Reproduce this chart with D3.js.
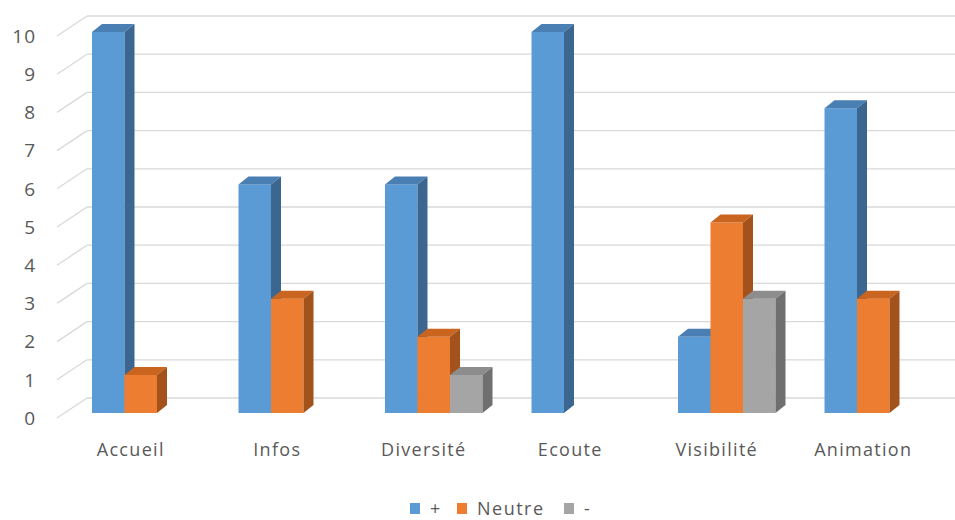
<!DOCTYPE html>
<html>
<head>
<meta charset="utf-8">
<script src="https://cdn.jsdelivr.net/npm/d3@7"></script>
<style>
  html, body { margin: 0; padding: 0; background: #fff; }
  svg { display: block; font-family: "Open Sans", "Noto Sans", sans-serif; }
</style>
</head>
<body>
<svg id="chart" width="955" height="520"></svg>
<script>
// Categories and series
const categories = ["Accueil", "Infos", "Diversité", "Ecoute", "Visibilité", "Animation"];
const seriesNames = ["+", "Neutre", "-"];
const plusValues = [10, 6, 6, 10, 2, 8];
const neutreValues = [1, 3, 2, 0, 5, 3];
const minusValues = [0, 0, 1, 0, 3, 0];
const yTicks = [0, 1, 2, 3, 4, 5, 6, 7, 8, 9, 10];

const seriesValues = [plusValues, neutreValues, minusValues];
const palette = [
  { front: "#5b9bd5", top: "#4a7fb3", side: "#3a6690" },
  { front: "#ed7d31", top: "#c9651f", side: "#a3521b" },
  { front: "#a5a5a5", top: "#8d8d8d", side: "#6f6f6f" }
];

const svg = d3.select("#chart");

// Perspective offsets: whole plot depth and single bar depth
const wallDx = 30, wallDy = -20;
const barDx = 10, barDy = -8;

// Back wall scale and front-of-bar scale
const yWall = d3.scaleLinear().domain([0, 10]).range([398, 16]);
const yBar = d3.scaleLinear().domain([0, 10]).range([413, 32]);

const x0 = d3.scaleBand().domain(categories).range([67.5, 946.5])
  .paddingInner(0.3345).paddingOuter(0.3345 / 2);
const x1 = d3.scaleBand().domain(d3.range(seriesNames.length)).range([0, x0.bandwidth()]);

// Gridlines on the back wall plus the receding side wall edges
const grid = svg.append("g");
yTicks.forEach(v => {
  const yb = yWall(v);
  grid.append("line")
    .attr("x1", 57 + wallDx).attr("x2", 955)
    .attr("y1", yb).attr("y2", yb)
    .attr("stroke", "#d9d9d9").attr("stroke-width", 1.3);
  grid.append("line")
    .attr("x1", 57).attr("y1", yb - wallDy)
    .attr("x2", 57 + wallDx).attr("y2", yb)
    .attr("stroke", "#d9d9d9").attr("stroke-width", 1.3);
  grid.append("text")
    .attr("x", 36).attr("y", yb - wallDy)
    .attr("text-anchor", "end").attr("dy", "0.36em")
    .attr("fill", "#595959").attr("font-size", 19)
    .attr("letter-spacing", 1)
    .text(v);
});

// 3D columns
const bars = svg.append("g");
categories.forEach((c, ci) => {
  seriesValues.forEach((vals, si) => {
    const v = vals[ci];
    if (!v) return;
    const col = palette[si];
    const xl = x0(c) + x1(si);
    const xr = xl + x1.bandwidth();
    const yt = yBar(v);
    const yb = yBar(0);
    const g = bars.append("g");
    g.append("rect")
      .attr("x", xl).attr("y", yt)
      .attr("width", xr - xl).attr("height", yb - yt)
      .attr("fill", col.front);
    g.append("path")
      .attr("d", `M${xl},${yt}L${xl + barDx},${yt + barDy}L${xr + barDx},${yt + barDy}L${xr},${yt}Z`)
      .attr("fill", col.top);
    g.append("path")
      .attr("d", `M${xr},${yt}L${xr + barDx},${yt + barDy}L${xr + barDx},${yb + barDy}L${xr},${yb}Z`)
      .attr("fill", col.side);
  });
});

// Category labels
svg.append("g").selectAll("text").data(categories).join("text")
  .attr("x", d => x0(d) + x0.bandwidth() / 2 - 10)
  .attr("y", 456)
  .attr("text-anchor", "middle")
  .attr("fill", "#595959").attr("font-size", 18)
  .attr("letter-spacing", 1.3)
  .text(d => d);

// Legend
const legendItems = [
  { name: seriesNames[0], x: 410 },
  { name: seriesNames[1], x: 457 },
  { name: seriesNames[2], x: 564 }
];
const legend = svg.append("g");
legendItems.forEach((it, i) => {
  legend.append("rect")
    .attr("x", it.x).attr("y", 503)
    .attr("width", 10).attr("height", 11)
    .attr("fill", palette[i].front);
  legend.append("text")
    .attr("x", it.x + 20).attr("y", 509)
    .attr("dy", "0.36em")
    .attr("fill", "#595959").attr("font-size", 18)
    .attr("letter-spacing", 1.5)
    .text(it.name);
});
</script>
</body>
</html>
